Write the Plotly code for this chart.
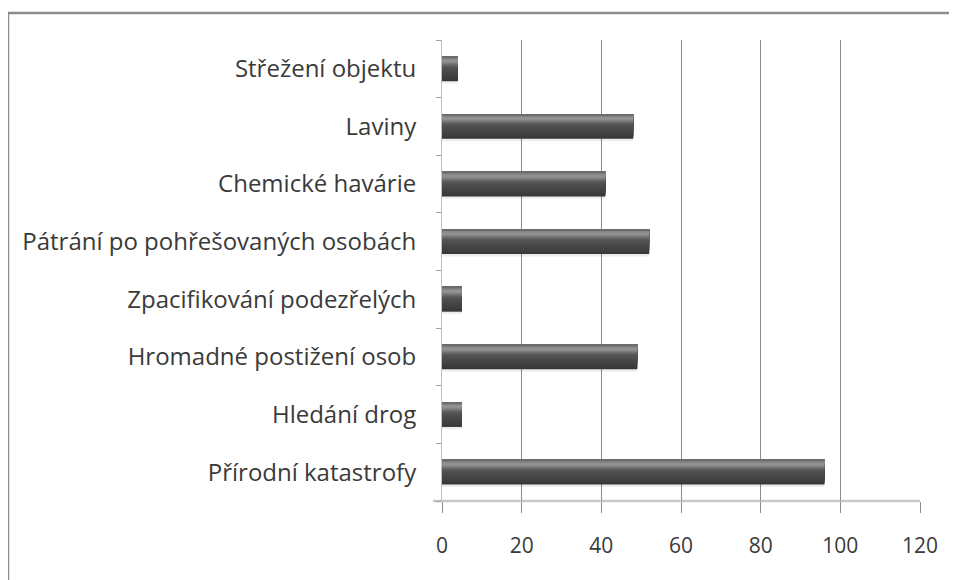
import plotly.graph_objects as go

categories = [
    "Přírodní katastrofy",
    "Hledání drog",
    "Hromadné postižení osob",
    "Zpacifikování podezřelých",
    "Pátrání po pohřešovaných osobách",
    "Chemické havárie",
    "Laviny",
    "Střežení objektu",
]
values = [96, 5, 49, 5, 52, 41, 48, 4]
x_ticks = [0, 20, 40, 60, 80, 100, 120]

# page body has an 8px default margin; size the figure to fit the 957x580 window
PAGE_OFF = 8
W, H = 957 - PAGE_OFF, 580 - PAGE_OFF
L, R, T, B = 442 - PAGE_OFF, 37, 40 - PAGE_OFF, 79
pw, ph = W - L - R, H - T - B

BAR_W = 0.43
# vertical shading profile of the cylinder bar: (fraction from bottom, gray level)
profile = [(0.0, 0x36), (0.15, 0x3e), (0.40, 0x4a), (0.58, 0x56),
           (0.70, 0x76), (0.80, 0x96), (0.88, 0x8c), (0.95, 0x74), (1.0, 0x66)]


def gray_at(f):
    for (f0, g0), (f1, g1) in zip(profile, profile[1:]):
        if f <= f1:
            t = (f - f0) / (f1 - f0) if f1 > f0 else 0
            return round(g0 + (g1 - g0) * t)
    return profile[-1][1]


fig = go.Figure()

# soft shadow under each bar
fig.add_trace(go.Bar(
    y=categories, x=values, orientation="h",
    offset=-BAR_W / 2 - 0.04, width=BAR_W,
    marker=dict(color="rgba(0,0,0,0.07)", line=dict(width=0)),
    hoverinfo="skip", showlegend=False,
))

N = 24
for i in range(N):
    f0 = i / N
    g = gray_at((i + 0.5) / N)
    start = -BAR_W / 2 + f0 * BAR_W
    fig.add_trace(go.Bar(
        y=categories, x=values, orientation="h",
        offset=start, width=BAR_W / 2 - start,
        marker=dict(color=f"rgb({g},{g},{g})", line=dict(width=0)),
        hoverinfo="skip", showlegend=False,
    ))

fig.update_layout(
    width=W, height=H,
    margin=dict(l=L, r=R, t=T, b=B, pad=0),
    paper_bgcolor="white", plot_bgcolor="white",
    barmode="overlay",
    font=dict(family="Open Sans", color="#3a3a3a"),
    xaxis=dict(
        range=[0, 120], tickvals=x_ticks, ticktext=[str(v) for v in x_ticks],
        showgrid=True, gridcolor="#8c8c8c", gridwidth=1,
        zeroline=False, showline=False,
        ticks="outside", ticklen=11, tickcolor="#8c8c8c", tickwidth=1,
        tickfont=dict(size=21, color="#3a3a3a"),
        ticklabelstandoff=15,
        fixedrange=True,
    ),
    yaxis=dict(
        categoryorder="array", categoryarray=categories,
        range=[-0.5, 7.5],
        showgrid=False, zeroline=False,
        showline=True, linecolor="#c0c0c0", linewidth=1,
        ticks="outside", tickson="boundaries", ticklen=5, tickcolor="#a0a0a0",
        tickfont=dict(size=24, color="#3a3a3a"),
        ticklabelstandoff=20,
        fixedrange=True,
    ),
    shapes=[
        # x axis base line
        dict(type="line", xref="paper", yref="paper",
             x0=(433 - 442) / pw, x1=1, y0=0, y1=0,
             line=dict(color="#c8c8c8", width=2.5), layer="below"),
        # outer chart border (left and top edges visible)
        dict(type="rect", xref="paper", yref="paper",
             x0=(8 - 442) / pw, x1=(957 + 10 - 442) / pw,
             y0=-(580 + 10 - 501) / ph, y1=(501 - 13) / ph,
             line=dict(color="#8c8c8c", width=2.5), fillcolor="rgba(0,0,0,0)"),
    ],
)

fig.write_html("out.html")
